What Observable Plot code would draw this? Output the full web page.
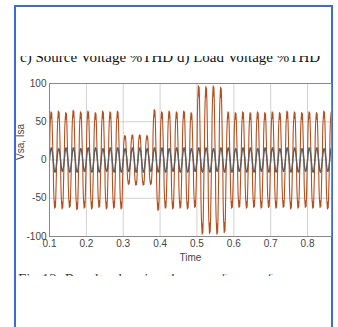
<!DOCTYPE html>
<html><head><meta charset="utf-8">
<script src="https://cdn.jsdelivr.net/npm/d3@7"></script>
<script src="https://cdn.jsdelivr.net/npm/@observablehq/plot@0.6"></script>
<style>
html,body{margin:0;padding:0;background:#fff;}
#page{position:relative;width:338px;height:327px;overflow:hidden;background:#fff;}
#frame{position:absolute;left:14px;top:5px;width:315px;height:330px;border:2px solid #3a6bd6;border-bottom:none;}
#title{position:absolute;left:20px;top:56px;width:310px;height:11px;overflow:hidden;}
#title span{position:absolute;left:0;top:-7px;font-family:"Liberation Serif",serif;font-size:15px;white-space:nowrap;color:#111;}
#cap{position:absolute;left:18px;top:274px;width:312px;height:2px;overflow:hidden;}
#cap span{position:absolute;left:0;top:-3px;font-family:"Liberation Serif",serif;font-size:15px;white-space:nowrap;color:#444;}
#chart{position:absolute;left:0;top:70px;}
</style></head>
<body><div id="page"><div id="frame"></div>
<div id="title"><span></span></div>
<div id="cap"><span></span></div>
<div id="chart"></div></div>
<script>
const titleText = "c) Source Voltage %THD d) Load Voltage %THD";
const captionText = "Fig 12: Results showing the waveforms of source and load voltage";
const xLabel = "Time";
const yLabel = "Vsa, Isa";
const xTicks = [0.1,0.2,0.3,0.4,0.5,0.6,0.7,0.8];
const yTicks = [-100,-50,0,50,100];
const tStart = 0.1;
const period = 0.02;
// per-cycle peak amplitude of source voltage (orange)
const vAmp = [63,64,62,65,63,64,62,64,63,64,
              32,33,33,32,
              66,63,64,63,64,62,
              97,96,97,95,
              63,62,63,62,63,62,63,62,64,63,62,63,62,64,63];
// per-cycle peak amplitude of source current (gray)
const iAmp = [16,15,16,16,15,16,16,15,16,16,
              15,16,16,15,
              16,16,15,16,16,15,
              16,16,15,16,
              16,15,16,16,15,16,16,15,16,16,15,16,16,15,16];
// one-cycle normalized shapes (1 ms samples)
const vShape = [0,0.55,0.78,0.9,1.0,0.86,0.98,0.8,0.5,0.18,0,-0.55,-0.78,-0.9,-1.0,-0.86,-0.98,-0.8,-0.5,-0.18];
const iShape = [0,0.31,0.59,0.81,0.95,1,0.95,0.81,0.59,0.31,0,-0.31,-0.59,-0.81,-0.95,-1,-0.95,-0.81,-0.59,-0.31];

document.querySelector("#title span").textContent = titleText;
document.querySelector("#cap span").textContent = captionText;

function build(amp, shape){
  const out=[];
  amp.forEach((a,k)=>{
    shape.forEach((s,i)=>{
      out.push({t: tStart + k*period + i*period/shape.length, y: a*s});
    });
  });
  out.push({t: tStart + amp.length*period, y: 0});
  return out;
}
const vData = build(vAmp, vShape);
const iData = build(iAmp, iShape);

const chart = Plot.plot({
  width: 338, height: 200,
  marginLeft: 49, marginRight: 7, marginTop: 13, marginBottom: 34,
  x: {domain:[0.1,0.865]},
  y: {domain:[-100,100]},
  style: {fontFamily:"Liberation Sans, Arial, sans-serif", fontSize:"10px", color:"#444", background:"transparent", overflow:"visible"},
  marks: [
    Plot.gridX(xTicks, {stroke:"#d0d0d0", strokeOpacity:1}),
    Plot.gridY(yTicks, {stroke:"#d0d0d0", strokeOpacity:1}),
    Plot.line(vData, {x:"t", y:"y", stroke:"#b5501f", strokeWidth:1.1, clip:true}),
    Plot.line(iData, {x:"t", y:"y", stroke:"#5e5e5e", strokeWidth:1.4, clip:true}),
    Plot.frame({stroke:"#888"}),
    Plot.axisX(xTicks, {tickSize:0, tickPadding:3, label:null, tickFormat:d=>d.toFixed(1), fill:"#444"}),
    Plot.axisY(yTicks, {tickSize:0, tickPadding:3, label:null, tickFormat:d=>String(d), fill:"#444"}),
    Plot.text([xLabel], {frameAnchor:"bottom", lineAnchor:"top", dy:17, fill:"#444"}),
    Plot.text([yLabel], {frameAnchor:"left", rotate:-90, lineAnchor:"top", dx:-33, fill:"#444"})
  ]
});
document.getElementById("chart").appendChild(chart);
</script></body></html>
